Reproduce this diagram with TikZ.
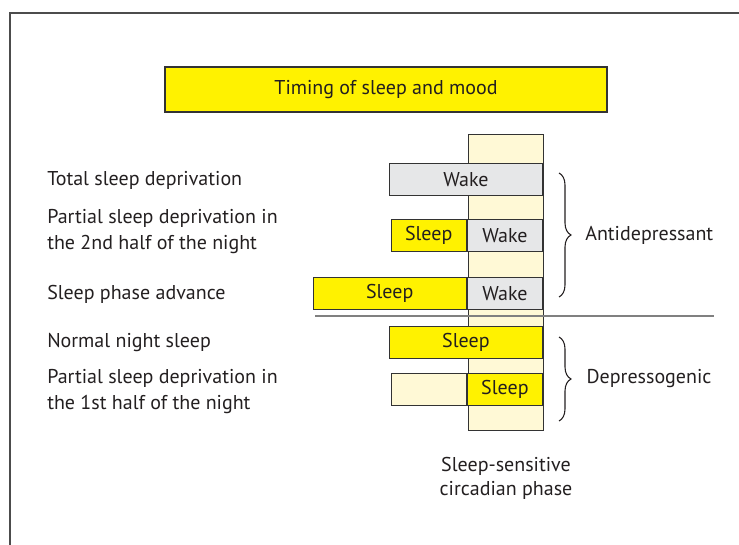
\documentclass[tikz,border=0pt]{standalone}
\usepackage{fontspec}
\setmainfont{PT Sans}
\usetikzlibrary{positioning,decorations.pathreplacing}
\definecolor{barYellow}{HTML}{FFF200}
\definecolor{phaseYellow}{HTML}{FFF9D6}
\definecolor{wakeGray}{HTML}{E6E7E8}
\definecolor{edgeGray}{HTML}{333333}
\definecolor{inkGray}{HTML}{231F20}

\begin{document}
\begin{tikzpicture}[
    x=0.75pt, y=-0.75pt,
    font=\fontsize{15}{19.5}\selectfont, text=inkGray,
    bar/.style={rectangle, draw=edgeGray, line width=0.9pt, minimum height=24pt, inner sep=0pt},
    sleep/.style={bar, fill=barYellow},
    wake/.style={bar, fill=wakeGray},
    blank/.style={bar, fill=phaseYellow},
    wide/.style={minimum width=114.75pt},
    narrow/.style={minimum width=56.25pt},
    rowtext/.style={anchor=west, align=left, inner sep=0pt},
    brace/.style={decorate, decoration={brace, amplitude=9pt}, line width=0.8pt, draw=inkGray},
]
    \useasboundingbox (0,0) rectangle (739,545);
    \draw[gray!60!black, line width=1.1pt] (10,545) |- (739,13);

    % title bar
    \node[sleep, minimum width=331.5pt, minimum height=33.75pt] (title) at (386,89.5) {Timing of sleep and mood};

    % sleep-sensitive phase column
    \node[blank, narrow, minimum height=222pt, anchor=north west] (phase) at (468,134) {};

    % antidepressant rows
    \node[wake, wide, anchor=north east] (wakeA) at (543,163) {Wake};
    \node[wake, narrow, anchor=north east] (wakeB) at (543,219) {Wake};
    \node[sleep, narrow, left=0pt of wakeB] (sleepB) {Sleep};
    \node[wake, narrow, anchor=north east] (wakeC) at (543,277) {Wake};
    \node[sleep, wide, left=0pt of wakeC] (sleepC) {Sleep};

    % depressogenic rows
    \node[sleep, wide, anchor=north east] (sleepD) at (543,326) {Sleep};
    \node[sleep, narrow, anchor=north east] (sleepE) at (543,373) {Sleep};
    \node[blank, narrow, left=0pt of sleepE] (blankE) {};

    % row labels
    \node[rowtext] (totalDep) at (47,180) {Total sleep deprivation};
    \node[rowtext] (partDepB) at (47,232) {Partial sleep deprivation in\\the 2nd half of the night};
    \node[rowtext] (phaseAdv) at (47,294) {Sleep phase advance};
    \node[rowtext] (normSleep) at (47,343) {Normal night sleep};
    \node[rowtext] (partDepE) at (47,392) {Partial sleep deprivation in\\the 1st half of the night};

    % separator
    \coordinate (sepL) at (315,316);
    \coordinate (sepR) at (714,316);
    \draw[gray, line width=0.8pt] (sepL) -- (sepR);

    % braces
    \coordinate (antiTop) at (559,173);
    \coordinate (antiBot) at (559,297);
    \draw[brace] (antiTop) -- node[right=16pt] (antiText) {Antidepressant} (antiBot);
    \coordinate (depTop) at (559,337);
    \coordinate (depBot) at (559,421);
    \draw[brace] (depTop) -- node[right=17pt] (depText) {Depressogenic} (depBot);

    \node[align=center, font=\fontsize{15}{18}\selectfont] (phaseText) at (506,478) {Sleep-sensitive\\circadian phase};
\end{tikzpicture}
\end{document}
